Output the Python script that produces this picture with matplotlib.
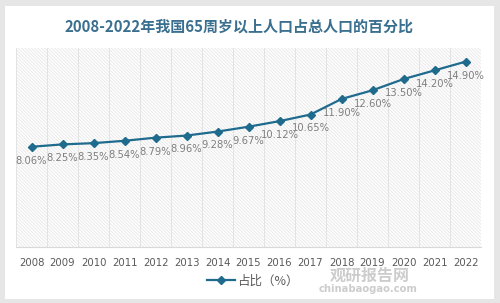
import matplotlib
matplotlib.use("Agg")
import matplotlib.pyplot as plt
from matplotlib.patches import Rectangle, FancyBboxPatch

plt.rcParams['font.family'] = ['Noto Sans CJK SC', 'DejaVu Sans']
plt.rcParams['hatch.color'] = '#e6e6e6'
plt.rcParams['hatch.linewidth'] = 0.6

years = ['2008', '2009', '2010', '2011', '2012', '2013', '2014', '2015',
         '2016', '2017', '2018', '2019', '2020', '2021', '2022']
values = [8.06, 8.25, 8.35, 8.54, 8.79, 8.96, 9.28, 9.67,
          10.12, 10.65, 11.90, 12.60, 13.50, 14.20, 14.90]
labels = ['8.06%', '8.25%', '8.35%', '8.54%', '8.79%', '8.96%', '9.28%', '9.67%',
          '10.12%', '10.65%', '11.90%', '12.60%', '13.50%', '14.20%', '14.90%']
series_name = '占比（%）'
title = '2008-2022年我国65周岁以上人口占总人口的百分比'

W, H = 500, 303
fig = plt.figure(figsize=(W / 100, H / 100), dpi=100)
fig.patch.set_facecolor('#e6e6e6')
card = FancyBboxPatch((5 / W, 4 / H), 489 / W, 293 / H, boxstyle='square,pad=0',
                      transform=fig.transFigure, facecolor='white', edgecolor='none', zorder=-10)
fig.patches.append(card)

ax = fig.add_axes([16 / W, 1 - 247 / H, 465 / W, 199 / H])
ax.set_facecolor('white')
ax.add_patch(Rectangle((0, 0), 1, 1, transform=ax.transAxes, facecolor='white',
                       edgecolor='#e6e6e6', hatch='\\' * 10, linewidth=0, zorder=0))

color = '#1f6b8e'
x = list(range(len(years)))
ax.plot(x, values, color=color, linewidth=1.6, marker='D', markersize=4.5, zorder=3,
        label=series_name)
for xi, v, lab in zip(x, values, labels):
    ax.annotate(lab, (xi, v), xytext=(0, -10), textcoords='offset points', ha='center',
                va='center', fontsize=7.2, color='#7f7f7f', zorder=4,
                family=['DejaVu Sans'])

ax.set_xlim(-0.5, len(years) - 0.5)
ax.set_ylim(0, 16)
for k in range(len(years) + 1):
    ax.axvline(k - 0.5, color='#e3e3e3', linewidth=0.7, zorder=1)
ax.set_yticks([])
ax.set_xticks(x)
ax.set_xticklabels(years, fontsize=7.3, color='#595959', family=['DejaVu Sans'])
ax.tick_params(axis='x', length=0, pad=8)
for s in ['top', 'left', 'right']:
    ax.spines[s].set_visible(False)
ax.spines['bottom'].set_color('#d9d9d9')

fig.text(0.478, 1 - 27 / H, title, ha='center', va='center', fontsize=10.8,
         fontweight='bold', color='#3a6f8f')

ax.legend(loc='center', bbox_to_anchor=(0.51, (247 - 281) / 199), frameon=False,
          fontsize=9, labelcolor='#595959', handlelength=2.2, handletextpad=0.2,
          borderaxespad=0)

# watermark
fig.text(370 / W, 1 - 276 / H, '观研报告网', ha='center', va='center', fontsize=11.5,
         fontweight='bold', color='#c4c4c4', alpha=0.85, zorder=10)
fig.text(368 / W, 1 - 289 / H, 'chinabaogao.com', ha='center', va='center', fontsize=7.2,
         fontweight='bold', color='#c4c4c4', alpha=0.85, zorder=10,
         family=['DejaVu Sans'])

fig.savefig('out.png', dpi=100, facecolor=fig.get_facecolor())
